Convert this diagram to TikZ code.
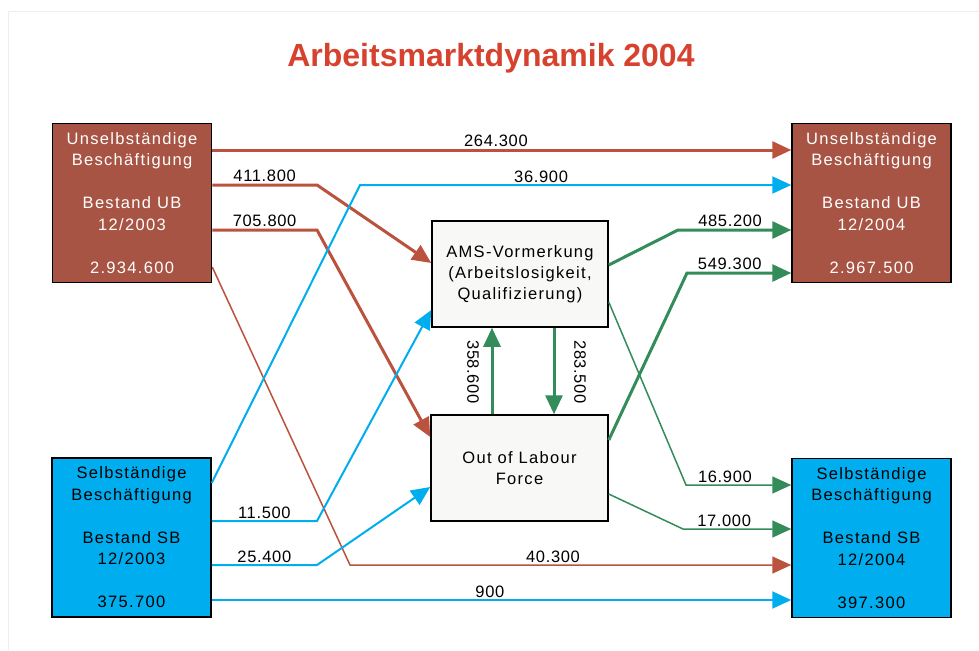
\documentclass[tikz,border=0pt]{standalone}
\usepackage{fontspec}
\setmainfont{Liberation Sans}
\newfontfamily\boxfont[LetterSpace=8]{Liberation Sans}
\newfontfamily\numfont[LetterSpace=4]{Liberation Sans}
\usetikzlibrary{arrows.meta}

\definecolor{ubfill}{RGB}{168,84,68}
\definecolor{ubline}{RGB}{186,82,62}
\definecolor{sbblue}{RGB}{0,174,239}
\definecolor{flowgreen}{RGB}{52,140,90}
\definecolor{titlered}{RGB}{214,66,46}
\definecolor{midfill}{RGB}{248,248,246}
\definecolor{framegray}{RGB}{238,238,238}

\tikzset{
  stock/.style={draw=black, line width=1.5pt, minimum width=159pt, minimum height=159pt,
    inner sep=0pt, align=center, font=\boxfont\fontsize{16.5}{21.5}\selectfont},
  ubstock/.style={stock, fill=ubfill, text=white},
  sbstock/.style={stock, fill=sbblue, text=black},
  midbox/.style={draw=black, line width=1.5pt, fill=midfill, minimum width=176pt,
    minimum height=106pt, inner sep=0pt, align=center, font=\boxfont\fontsize{16.5}{21}\selectfont},
  flowtip/.style={-{Triangle[length=19pt,width=17pt]}},
  ubflow/.style={flowtip, draw=ubline, line width=3pt},
  ubthin/.style={flowtip, draw=ubline, line width=1.5pt},
  sbflow/.style={flowtip, draw=sbblue, line width=2pt},
  gnflow/.style={flowtip, draw=flowgreen, line width=3pt},
  gnthin/.style={flowtip, draw=flowgreen, line width=1.5pt},
  num/.style={font=\numfont\fontsize{16.5}{18}\selectfont, inner sep=1.5pt},
  flowlabel/.style={num, above}
}

\begin{document}
\begin{tikzpicture}[x=1pt, y=-1pt]
	\fill[white] (0,0) rectangle (979,650);
	\useasboundingbox (0,0) rectangle (979,650);
	\draw[framegray] (8,650) -- (8,11) -- (979,11);

	\node[font=\fontsize{32}{36}\selectfont\bfseries, text=titlered] (title) at (491,58) {Arbeitsmarktdynamik 2004};

	% Bestaende
	\node[ubstock] (ubL) at (132,203) {Unselbständige\\Beschäftigung\\[21.5pt]Bestand UB\\12/2003\\[21.5pt]2.934.600};
	\node[sbstock] (sbL) at (131.5,537.5) {Selbständige\\Beschäftigung\\[21.5pt]Bestand SB\\12/2003\\[21.5pt]375.700};
	\node[ubstock] (ubR) at (871.5,203) {Unselbständige\\Beschäftigung\\[21.5pt]Bestand UB\\12/2004\\[21.5pt]2.967.500};
	\node[sbstock] (sbR) at (871.5,538) {Selbständige\\Beschäftigung\\[21.5pt]Bestand SB\\12/2004\\[21.5pt]397.300};

	% Zwischenzustaende
	\node[midbox] (ams) at (520,274) {AMS-Vormerkung\\(Arbeitslosigkeit,\\Qualifizierung)};
	\node[midbox, minimum width=177pt] (olf) at (519.5,468) {Out of Labour\\Force};

	% Stroeme aus UB
	\draw[ubflow] (ubL.east |- 0,150) -- node[flowlabel, pos=.49] {264.300} (ubR.west |- 0,150);
	\draw[ubflow] (ubL.east |- 0,185) -- node[flowlabel] {411.800} (317,185) -- (ams.west |- 0,263);
	\draw[ubflow] (ubL.east |- 0,230) -- node[flowlabel] {705.800} (317,230) -- (olf.west |- 0,437);
	\draw[ubthin] (ubL.east |- 0,267) -- (350,565) -- node[flowlabel, pos=.46] {40.300} (sbR.west |- 0,565);

	% Stroeme aus SB
	\draw[sbflow] (sbL.east |- 0,483) -- (360,185) -- node[flowlabel, pos=.42] {36.900} (ubR.west |- 0,185);
	\draw[sbflow] (sbL.east |- 0,521) -- node[flowlabel] {11.500} (317,521) -- (ams.west |- 0,310);
	\draw[sbflow] (sbL.east |- 0,565) -- node[flowlabel] {25.400} (317,565) -- (olf.west |- 0,487);
	\draw[sbflow] (sbL.east |- 0,600) -- node[flowlabel, pos=.48] {900} (sbR.west |- 0,600);

	% Stroeme zwischen AMS und OLF
	\draw[gnflow] (olf.north -| 492,0) -- (ams.south -| 492,0);
	\draw[gnflow] (ams.south -| 554,0) -- (olf.north -| 554,0);
	\node[num, rotate=-90] (l358) at (473,372) {358.600};
	\node[num, rotate=-90] (l283) at (580,372) {283.500};

	% Stroeme in die Bestaende 2004
	\draw[gnflow] (ams.east |- 0,265) -- (678,230) -- node[flowlabel, pos=.46] {485.200} (ubR.west |- 0,230);
	\draw[gnflow] (olf.east |- 0,440) -- (687,273) -- node[flowlabel, pos=.41] {549.300} (ubR.west |- 0,273);
	\draw[gnthin] (ams.east |- 0,302) -- (686,485) -- node[flowlabel, pos=.37] {16.900} (sbR.west |- 0,485);
	\draw[gnthin] (olf.east |- 0,494) -- (683,529) -- node[flowlabel, pos=.38] {17.000} (sbR.west |- 0,529);
\end{tikzpicture}
\end{document}
